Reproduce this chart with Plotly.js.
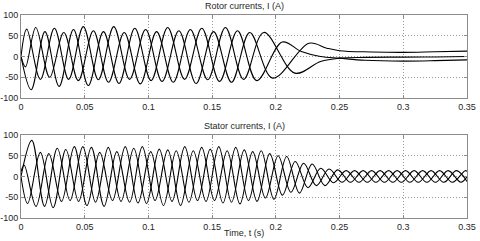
<!DOCTYPE html>
<html><head><meta charset="utf-8">
<script src="https://cdn.plot.ly/plotly-3.0.1.min.js"></script>
<style>html,body{margin:0;padding:0;background:#fff}#chart{width:480px;height:241px}</style>
</head><body><div id="chart"></div>
<script>
// Rotor currents (A), three phases, extreme points
const rotorTimeA = [0,0.0045,0.0152,0.0262,0.0374,0.0489,0.0607,0.0728,0.0852,0.0978,0.1107,0.1239,0.1374,0.1511,0.1652,0.1795,0.1975,0.2260,0.24,0.25,0.275,0.3,0.325,0.35];
const rotorA     = [0,66,-55,68,-55,72,-56,72,-55,65,-60,62,-65,60,-62,58,-52,32,20,14,11,10,11.5,13];
const rotorTimeB = [0,0.0035,0.0116,0.0225,0.0336,0.0450,0.0568,0.0687,0.0810,0.0936,0.1064,0.1195,0.1329,0.1465,0.1604,0.1747,0.1905,0.2150,0.235,0.25,0.27,0.3,0.325,0.35];
const rotorB     = [0,-25,70,-50,58,-58,62,-62,58,-66,60,-62,65,-56,70,-55,58,-40,-12,-4,-2,-1.5,-1,0];
const rotorTimeC = [0,0.0080,0.0188,0.0299,0.0412,0.0528,0.0647,0.0769,0.0893,0.1021,0.1151,0.1284,0.1419,0.1558,0.1699,0.1850,0.2050,0.22,0.235,0.25,0.27,0.3,0.325,0.35];
const rotorC     = [0,-80,60,-72,65,-70,60,-65,68,-58,70,-55,68,-60,62,-58,35,12,0,-4,-9,-11,-10,-8];

// Stator currents (A)
const statorTimeA = [0,0.0085,0.0185,0.0285,0.0385,0.0485,0.0585,0.0685,0.0785,0.0885,0.0985,0.1085,0.1185,0.1285,0.1385,0.1485,0.1585,0.1685,0.1785,0.1885,0.1985,0.2085,0.2185,0.2285,0.2385,0.2485,0.2585,0.2685,0.2785,0.2885,0.2985,0.3085,0.3185,0.3285,0.3385,0.3485,0.35];
const statorA     = [0,87,-72,68,-58,72,-62,70,-60,68,-65,66,-60,72,-58,66,-64,70,-58,62,-55,48,-40,30,-22,16,-14,14,-14,14,-14,14,-14,14,-14,14,12.5];
const statorTimeB = [0,0.0052,0.0152,0.0252,0.0352,0.0452,0.0552,0.0652,0.0752,0.0852,0.0952,0.1052,0.1152,0.1252,0.1352,0.1452,0.1552,0.1652,0.1752,0.1852,0.1952,0.2052,0.2152,0.2252,0.2352,0.2452,0.2552,0.2652,0.2752,0.2852,0.2952,0.3052,0.3152,0.3252,0.3352,0.3452,0.35];
const statorB     = [0,-65,58,-75,65,-60,70,-72,60,-62,72,-58,64,-70,62,-60,72,-62,64,-60,55,-45,36,-27,20,-15,14,-14,14,-14,14,-14,14,-14,14,-14,-1];
const statorTimeC = [0,0.0025,0.0118,0.0218,0.0318,0.0418,0.0518,0.0618,0.0718,0.0818,0.0918,0.1018,0.1118,0.1218,0.1318,0.1418,0.1518,0.1618,0.1718,0.1818,0.1918,0.2018,0.2118,0.2218,0.2318,0.2418,0.2518,0.2618,0.2718,0.2818,0.2918,0.3018,0.3118,0.3218,0.3318,0.3418,0.35];
const statorC     = [12,27,-72,55,-60,72,-70,58,-58,72,-64,60,-70,62,-62,70,-58,62,-66,60,-52,50,-38,32,-22,18,-14,14,-14,14,-14,14,-14,14,-14,14,-12];

const xTicks = [0,0.05,0.1,0.15,0.2,0.25,0.3,0.35];
const xTickLabels = ['0','0.05','0.1','0.15','0.2','0.25','0.3','0.35'];
const yTicks = [-100,-50,0,50,100];
const yTickLabels = ['-100','-50','0','50','100'];

const FONT = 'Liberation Sans, Arial, sans-serif';
const lineStyle = {color:'#000', width:1.1, shape:'spline', smoothing:1};
function tr(x, y, xa, ya){ return {x:x, y:y, xaxis:xa, yaxis:ya, type:'scatter', mode:'lines', line:lineStyle, hoverinfo:'skip', showlegend:false}; }

const data = [
  tr(rotorTimeA, rotorA, 'x', 'y'),
  tr(rotorTimeB, rotorB, 'x', 'y'),
  tr(rotorTimeC, rotorC, 'x', 'y'),
  tr(statorTimeA, statorA, 'x2', 'y2'),
  tr(statorTimeB, statorB, 'x2', 'y2'),
  tr(statorTimeC, statorC, 'x2', 'y2')
];

const tickFont = {family:FONT, size:9, color:'#262626'};
const common = {showline:true, mirror:'ticks', linecolor:'#8c8c8c', linewidth:1,
  showgrid:true, gridcolor:'#9a9a9a', griddash:'1px,2px', gridwidth:1, zeroline:false,
  ticks:'inside', ticklen:3, tickcolor:'#8c8c8c', tickfont:tickFont, fixedrange:true};

const layout = {
  width:480, height:241,
  margin:{l:21, r:13, t:15, b:23, pad:0},
  paper_bgcolor:'#fff', plot_bgcolor:'#fff',
  font:{family:FONT, size:9, color:'#262626'},
  xaxis: Object.assign({}, common, {domain:[0,1], anchor:'y', range:[0,0.35], tickvals:xTicks, ticktext:xTickLabels}),
  yaxis: Object.assign({}, common, {domain:[0.591,1], anchor:'x', range:[-100,100], tickvals:yTicks, ticktext:yTickLabels}),
  xaxis2: Object.assign({}, common, {domain:[0,1], anchor:'y2', range:[0,0.35], tickvals:xTicks, ticktext:xTickLabels}),
  yaxis2: Object.assign({}, common, {domain:[0,0.409], anchor:'x2', range:[-100,100], tickvals:yTicks, ticktext:yTickLabels}),
  annotations:[
    {text:'Rotor currents, I (A)', xref:'paper', yref:'paper', x:0.5, y:1.044, xanchor:'center', yanchor:'middle', showarrow:false, font:{family:FONT, size:9, color:'#262626'}},
    {text:'Stator currents, I (A)', xref:'paper', yref:'paper', x:0.5, y:0.453, xanchor:'center', yanchor:'middle', showarrow:false, font:{family:FONT, size:9, color:'#262626'}},
    {text:'Time, t (s)', xref:'paper', yref:'paper', x:0.5, y:-0.074, xanchor:'center', yanchor:'middle', showarrow:false, font:{family:FONT, size:9, color:'#262626'}}
  ]
};

Plotly.newPlot('chart', data, layout, {displayModeBar:false, staticPlot:true});
</script>
</body></html>
